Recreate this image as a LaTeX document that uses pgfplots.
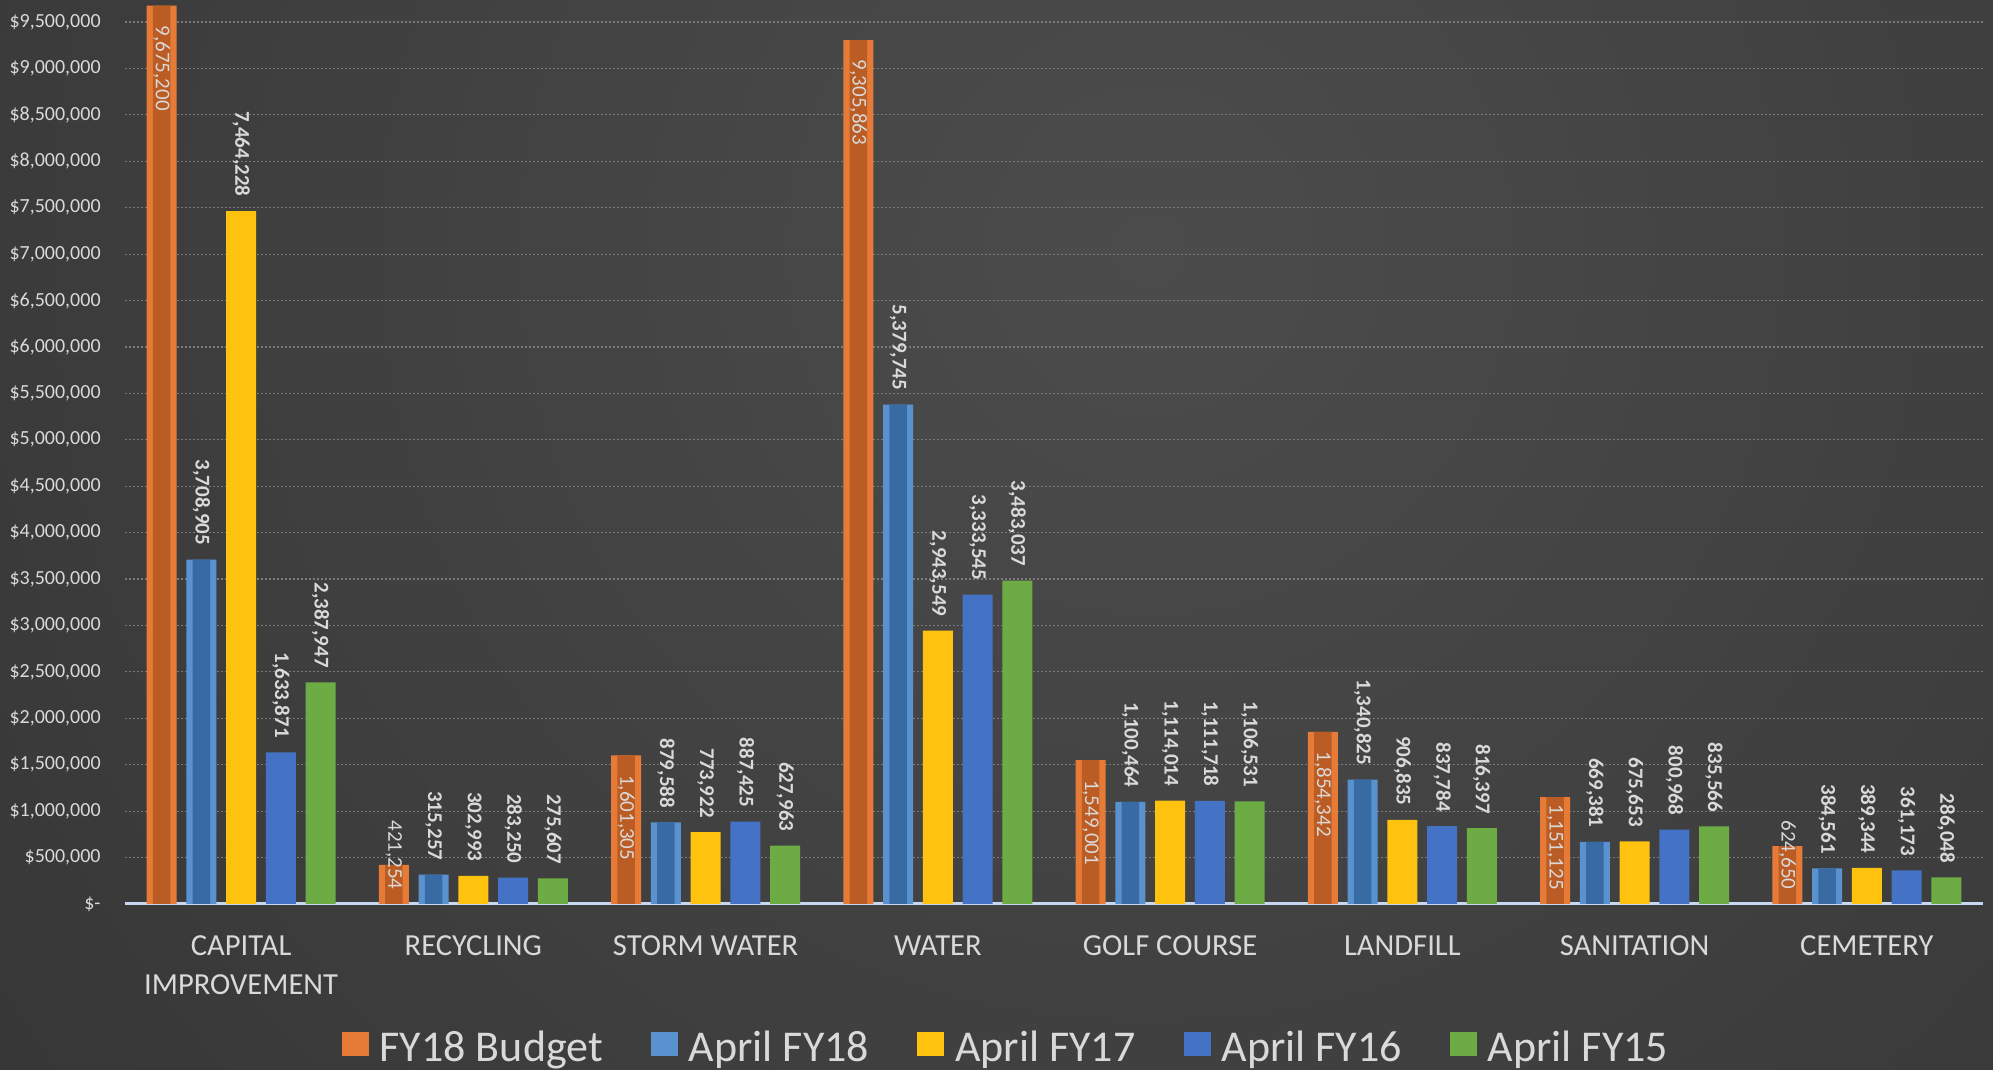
\documentclass[border=0pt]{standalone}
\usepackage{pgfplots}
\pgfplotsset{compat=1.18}
\usepackage{fontspec}
\setmainfont{Carlito}
\definecolor{bgin}{HTML}{4C4C4C}
\definecolor{bgout}{HTML}{222222}
\definecolor{lblC}{HTML}{D9D9D9}
\definecolor{gridC}{HTML}{7A7A7A}
\definecolor{baseC}{HTML}{C6D9F1}
\definecolor{orA}{HTML}{E67B38}
\definecolor{orB}{HTML}{BA5C24}
\definecolor{blA}{HTML}{5A92D0}
\definecolor{blB}{HTML}{386BA4}
\definecolor{yeC}{HTML}{FFC20E}
\definecolor{rbC}{HTML}{4472C4}
\definecolor{grC}{HTML}{6DAB45}
\pgfplotsset{
  lblfmt/.style={point meta=y,
    nodes near coords={\pgfmathprintnumber[fixed,precision=0,1000 sep={,},assume math mode=true]{\pgfplotspointmeta}}},
  outlbl/.style={lblfmt, every node near coord/.append style={font=\bfseries\fontsize{10.5}{12}\selectfont, text=lblC, inner sep=0pt, yshift=7pt, rotate=-90, anchor=east}},
  inlbl/.style={lblfmt, every node near coord/.append style={font=\fontsize{10.5}{12}\selectfont, text=lblC, inner sep=0pt, yshift=-9.75pt, rotate=-90, anchor=west}},
}
\begin{document}
\begin{tikzpicture}
\begin{scope}
\clip (0,0) rectangle (996.5pt,535pt);
\shade[inner color=bgin, outer color=bgout] (-825pt,-990pt) rectangle (1975pt,1810pt);
\end{scope}
\useasboundingbox (0,0) rectangle (996.5pt,535pt);
\begin{axis}[
  at={(62.5pt,83pt)}, anchor=south west,
  scale only axis, width=929pt, height=452pt,
  xmin=-0.5, xmax=7.5, ymin=0, ymax=9737000,
  clip=false,
  ybar, bar width=0.129,
  axis x line*=bottom, axis y line*=left,
  x axis line style={draw=baseC, line width=1.5pt, -},
  y axis line style={draw=none},
  major tick length=0pt,
  xtick={0,1,2,3,4,5,6,7},
  xticklabels={{CAPITAL\\IMPROVEMENT},{RECYCLING},{STORM WATER},{WATER},{GOLF COURSE},{LANDFILL},{SANITATION},{CEMETERY}},
  xticklabel style={align=center, font=\fontsize{15.3}{19.5}\selectfont, text=lblC, inner sep=0pt, anchor=north, yshift=-15.5pt},
  ytick={0,500000,1000000,1500000,2000000,2500000,3000000,3500000,4000000,4500000,5000000,5500000,6000000,6500000,7000000,7500000,8000000,8500000,9000000,9500000},
  yticklabels={{\$-\hspace{6.5pt}},{\$500,000},{\$1,000,000},{\$1,500,000},{\$2,000,000},{\$2,500,000},{\$3,000,000},{\$3,500,000},{\$4,000,000},{\$4,500,000},{\$5,000,000},{\$5,500,000},{\$6,000,000},{\$6,500,000},{\$7,000,000},{\$7,500,000},{\$8,000,000},{\$8,500,000},{\$9,000,000},{\$9,500,000}},
  yticklabel style={font=\fontsize{10}{12}\selectfont, text=lblC, inner sep=0pt, anchor=east, xshift=-12pt},
  ymajorgrids,
  major grid style={draw=gridC, line width=0.6pt, dash pattern=on 1pt off 1pt},
  legend columns=5,
  legend image code/.code={\fill[#1] (0pt,-4pt) rectangle (13.5pt,8pt);},
  legend style={at={(0.4747,-0.159)}, anchor=center, draw=none, fill=none, text=lblC,
    font=\fontsize{22}{26}\selectfont,
    /tikz/every odd column/.append style={column sep=3.5pt},
    /tikz/every even column/.append style={column sep=22pt}},
]
\addplot[draw=none, fill=orA, bar shift=-0.342, inlbl] coordinates {(0,9675200) (2,1601305) (3,9305863) (4,1549001) (5,1854342)};
\addlegendentry{FY18 Budget}
\addplot[draw=none, fill=orA, forget plot, bar shift=-0.342, lblfmt,
  visualization depends on={value \thisrow{ls} \as \lsh},
  every node near coord/.append style={font=\fontsize{10.5}{12}\selectfont, text=lblC, inner sep=0pt, yshift=\lsh pt, rotate=-90, anchor=east}]
  table[x=x, y=y] {
x y ls
1 421254 -12.5
6 1151125 -46.5
7 624650 -22
};
\addplot[draw=none, fill=orB, forget plot, bar shift=-0.342, bar width=0.075] coordinates {(0,9675200) (1,421254) (2,1601305) (3,9305863) (4,1549001) (5,1854342) (6,1151125) (7,624650)};
\addplot[draw=none, fill=blA, bar shift=-0.171, outlbl] coordinates {(0,3708905) (1,315257) (2,879588) (3,5379745) (4,1100464) (5,1340825) (6,669381) (7,384561)};
\addlegendentry{April FY18}
\addplot[draw=none, fill=blB, forget plot, bar shift=-0.171, bar width=0.075] coordinates {(0,3708905) (1,315257) (2,879588) (3,5379745) (4,1100464) (5,1340825) (6,669381) (7,384561)};
\addplot[draw=none, fill=yeC, bar shift=0, outlbl] coordinates {(0,7464228) (1,302993) (2,773922) (3,2943549) (4,1114014) (5,906835) (6,675653) (7,389344)};
\addlegendentry{April FY17}
\addplot[draw=none, fill=rbC, bar shift=0.171, outlbl] coordinates {(0,1633871) (1,283250) (2,887425) (3,3333545) (4,1111718) (5,837784) (6,800968) (7,361173)};
\addlegendentry{April FY16}
\addplot[draw=none, fill=grC, bar shift=0.342, outlbl] coordinates {(0,2387947) (1,275607) (2,627963) (3,3483037) (4,1106531) (5,816397) (6,835566) (7,286048)};
\addlegendentry{April FY15}
\end{axis}
\end{tikzpicture}
\end{document}
